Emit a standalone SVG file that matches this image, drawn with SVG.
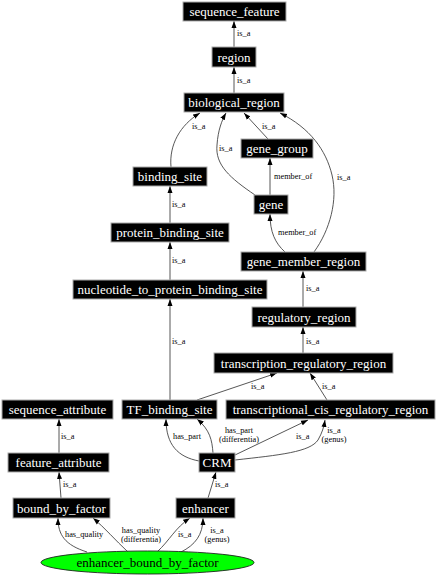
<svg xmlns="http://www.w3.org/2000/svg" width="437" height="576" viewBox="0 0 437 576">
<style>
.n rect{fill:#000;stroke:#aaa;stroke-width:1}
.n text{fill:#fff;font-family:"Liberation Serif",serif;font-size:13px;text-anchor:middle}
.e path{fill:none;stroke:#444;stroke-width:0.9;marker-end:url(#ah)}
.l{font-family:"Liberation Serif",serif;font-size:8.3px;fill:#000}
.c{text-anchor:middle}
</style>
<defs>
<marker id="ah" markerWidth="7" markerHeight="6" refX="7" refY="3" orient="auto" markerUnits="userSpaceOnUse"><path d="M0,0.5 L7,3 L0,5.5 z" fill="#000"/></marker>
</defs>
<rect width="437" height="576" fill="#fff"/>
<g id="edges" class="e">
<path d="M234,47 L234,21"/>
<path d="M234,93 L234,67"/>
<path d="M171,167 C169,145 180,125 200,113"/>
<path d="M255,195 C230,178 215,165 217,145 C218,130 222,120 226,113"/>
<path d="M268,139 L244,113"/>
<path d="M314,252 C330,230 338,200 332,175 C326,150 310,128 280,113"/>
<path d="M270,195 L270,158"/>
<path d="M285,252 C275,243 270,232 270,214"/>
<path d="M170,223 L170,186"/>
<path d="M170,280 L170,242"/>
<path d="M303,307 L303,271"/>
<path d="M303,353 L303,327"/>
<path d="M170,400 L170,299"/>
<path d="M197,400 L277,373"/>
<path d="M327,400 L310,373"/>
<path d="M59,453 L59,419"/>
<path d="M199,461 C178,457 166,445 166,419"/>
<path d="M213,453 C212,440 210,430 197,419"/>
<path d="M235,455 L308,420"/>
<path d="M235,460 C280,455 310,452 318,440 C322,433 324,427 325,420"/>
<path d="M61,498 L59,472"/>
<path d="M208,498 L216,472"/>
<path d="M87,552 C65,545 58,535 58,518"/>
<path d="M128,552 C115,540 105,528 93,518"/>
<path d="M157,552 C170,540 175,528 190,518"/>
<path d="M181,552 C195,545 203,535 203,518"/>
</g>
<g id="labels">
<text class="l" x="237" y="36">is_a</text>
<text class="l" x="237" y="83">is_a</text>
<text class="l" x="192" y="129">is_a</text>
<text class="l" x="219" y="151">is_a</text>
<text class="l" x="262" y="129">is_a</text>
<text class="l" x="337" y="180">is_a</text>
<text class="l" x="274" y="179">member_of</text>
<text class="l" x="278" y="235">member_of</text>
<text class="l" x="172" y="207">is_a</text>
<text class="l" x="172" y="263">is_a</text>
<text class="l" x="306" y="291">is_a</text>
<text class="l" x="306" y="344">is_a</text>
<text class="l" x="172" y="344">is_a</text>
<text class="l" x="251" y="389">is_a</text>
<text class="l" x="322" y="389">is_a</text>
<text class="l" x="61" y="439">is_a</text>
<text class="l" x="173" y="439">has_part</text>
<text class="l c" x="239" y="433">has_part</text>
<text class="l c" x="239" y="442">(differentia)</text>
<text class="l" x="296" y="439">is_a</text>
<text class="l c" x="334" y="433">is_a</text>
<text class="l c" x="334" y="442">(genus)</text>
<text class="l" x="63" y="487">is_a</text>
<text class="l" x="215" y="487">is_a</text>
<text class="l" x="65" y="537">has_quality</text>
<text class="l c" x="141" y="532.5">has_quality</text>
<text class="l c" x="141" y="541.5">(differentia)</text>
<text class="l" x="178" y="537">is_a</text>
<text class="l c" x="217" y="532.5">is_a</text>
<text class="l c" x="217" y="541.5">(genus)</text>
</g>
<g id="sequence_feature" class="n"><rect x="183" y="2" width="103" height="19"/><text x="234.5" y="16">sequence_feature</text></g>
<g id="region" class="n"><rect x="212" y="47" width="44" height="20"/><text x="234" y="61.5">region</text></g>
<g id="biological_region" class="n"><rect x="184" y="93" width="100" height="19"/><text x="234" y="107">biological_region</text></g>
<g id="gene_group" class="n"><rect x="241" y="139" width="72" height="19"/><text x="277" y="153">gene_group</text></g>
<g id="binding_site" class="n"><rect x="133" y="167" width="74" height="19"/><text x="170" y="181">binding_site</text></g>
<g id="gene" class="n"><rect x="254" y="195" width="34" height="19"/><text x="271" y="209">gene</text></g>
<g id="protein_binding_site" class="n"><rect x="111" y="223" width="118" height="19"/><text x="170" y="237">protein_binding_site</text></g>
<g id="gene_member_region" class="n"><rect x="241" y="252" width="125" height="19"/><text x="303.5" y="266">gene_member_region</text></g>
<g id="nucleotide_to_protein_binding_site" class="n"><rect x="73" y="280" width="194" height="19"/><text x="170" y="294">nucleotide_to_protein_binding_site</text></g>
<g id="regulatory_region" class="n"><rect x="252" y="307" width="104" height="20"/><text x="304" y="321.5">regulatory_region</text></g>
<g id="transcription_regulatory_region" class="n"><rect x="214" y="353" width="179" height="20"/><text x="303.5" y="367.5">transcription_regulatory_region</text></g>
<g id="sequence_attribute" class="n"><rect x="2" y="400" width="111" height="19"/><text x="57.5" y="414">sequence_attribute</text></g>
<g id="TF_binding_site" class="n"><rect x="122" y="400" width="95" height="19"/><text x="169.5" y="414">TF_binding_site</text></g>
<g id="transcriptional_cis_regulatory_region" class="n"><rect x="226" y="400" width="209" height="19"/><text x="330.5" y="414">transcriptional_cis_regulatory_region</text></g>
<g id="feature_attribute" class="n"><rect x="8" y="453" width="101" height="19"/><text x="58.5" y="467">feature_attribute</text></g>
<g id="CRM" class="n"><rect x="199" y="453" width="36" height="19"/><text x="217" y="467">CRM</text></g>
<g id="bound_by_factor" class="n"><rect x="13" y="498" width="97" height="20"/><text x="61.5" y="512.5">bound_by_factor</text></g>
<g id="enhancer" class="n"><rect x="176" y="498" width="59" height="20"/><text x="205.5" y="512.5">enhancer</text></g>
<g id="enhancer_bound_by_factor"><ellipse cx="147.5" cy="562.5" rx="106.5" ry="11.5" fill="#00ff00" stroke="#222" stroke-width="0.9"/><text x="147.5" y="567" font-family="'Liberation Serif',serif" font-size="13" text-anchor="middle" fill="#000">enhancer_bound_by_factor</text></g>
</svg>
